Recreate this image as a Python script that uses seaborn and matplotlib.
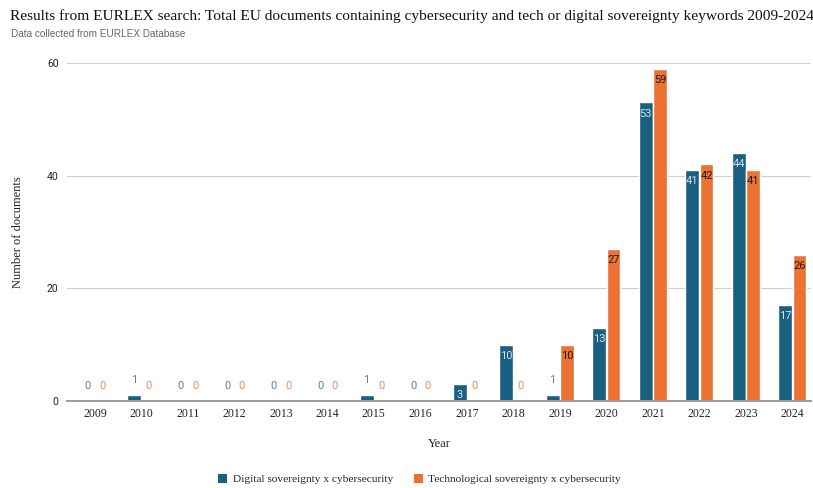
import matplotlib
matplotlib.use("Agg")
import matplotlib.pyplot as plt
import seaborn as sns
import pandas as pd
from matplotlib.patches import Patch

years = ["2009", "2010", "2011", "2012", "2013", "2014", "2015", "2016",
         "2017", "2018", "2019", "2020", "2021", "2022", "2023", "2024"]
digital = [0, 1, 0, 0, 0, 0, 1, 0, 3, 10, 1, 13, 53, 41, 44, 17]
technological = [0, 0, 0, 0, 0, 0, 0, 0, 0, 0, 10, 27, 59, 42, 41, 26]
series_names = ["Digital sovereignty x cybersecurity",
                "Technological sovereignty x cybersecurity"]
colors = ["#185f80", "#eb7233"]

df = pd.DataFrame({
    "Year": years * 2,
    "Value": digital + technological,
    "Series": [series_names[0]] * len(years) + [series_names[1]] * len(years),
})

sns.set_theme(style="white")
serif = ["Liberation Serif", "DejaVu Serif"]
sans = ["Roboto", "DejaVu Sans"]

fig = plt.figure(figsize=(8.13, 4.88), dpi=100)
ax = fig.add_axes([0.0824, 0.178, 0.9156, 0.693])

sns.barplot(data=df, x="Year", y="Value", hue="Series", palette=colors,
            width=0.62, gap=0.04, ax=ax, legend=False, saturation=1)

ax.set_ylim(0, 60)
ax.set_xlim(-0.6, len(years) - 0.59)
ax.set_yticks([0, 20, 40, 60])
ax.yaxis.grid(True, color="#d0d0d0", linewidth=0.8)
ax.set_axisbelow(True)
for s in ["top", "right", "left"]:
    ax.spines[s].set_visible(False)
ax.spines["bottom"].set_color("#9a9a9a")
ax.spines["bottom"].set_linewidth(1.4)
ax.tick_params(axis="both", length=0)
ax.tick_params(axis="y", pad=6)
ax.tick_params(axis="x", pad=5)
for t in ax.get_xticklabels():
    t.set_fontfamily(serif)
    t.set_fontsize(8.5)
    t.set_color("#222222")
for t in ax.get_yticklabels():
    t.set_fontfamily(sans)
    t.set_fontsize(7.5)
    t.set_color("#222222")

ax.set_xlabel("Year", fontfamily=serif, fontsize=9, color="#222222", labelpad=13)
ax.set_ylabel("Number of documents", fontfamily=serif, fontsize=9, color="#222222")
ax.yaxis.set_label_coords(-0.058, 0.5)

# value labels
inside_colors = ["#d5e3ea", "#1a1a1a"]
above_colors = ["#4f86a3", "#ee8a55"]
for ci, cont in enumerate(ax.containers):
    vals = [digital, technological][ci]
    for bar, v in zip(cont, vals):
        x = bar.get_x() + bar.get_width() / 2
        if v >= 3:
            ax.annotate(str(v), (x, v), xytext=(0, -8), textcoords="offset points",
                        ha="center", va="center", fontsize=8, fontfamily=sans,
                        color=inside_colors[ci])
        else:
            ax.annotate(str(v), (x, v), xytext=(0, 11), textcoords="offset points",
                        ha="center", va="center", fontsize=8, fontfamily=sans,
                        color=above_colors[ci])

fig.text(0.012, 0.968, "Results from EURLEX search: Total EU documents containing cybersecurity and tech or digital sovereignty keywords 2009-2024",
         fontfamily=serif, fontsize=11.05, color="#111111", ha="left", va="center")
fig.text(0.013, 0.93, "Data collected from EURLEX Database", fontfamily=["Liberation Sans", "DejaVu Sans"],
         fontsize=7.2, color="#666666", ha="left", va="center")

handles = [Patch(facecolor=c, edgecolor="none") for c in colors]
fig.legend(handles, series_names, loc="center", bbox_to_anchor=(0.516, 0.018),
           ncol=2, frameon=False, prop={"family": serif, "size": 8.2},
           handlelength=0.8, handleheight=0.8, handletextpad=0.5, columnspacing=1.8)

fig.savefig("out.png", dpi=100)
